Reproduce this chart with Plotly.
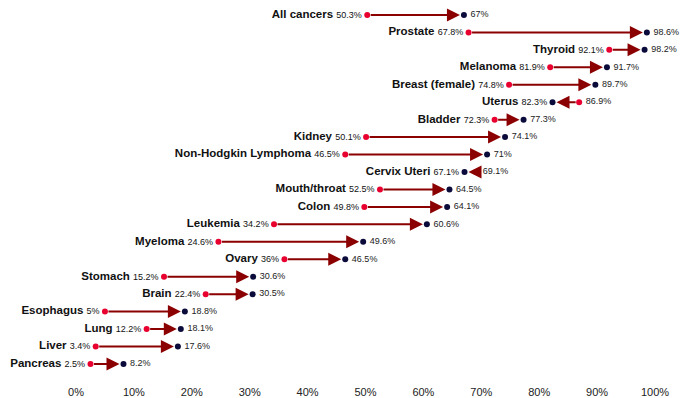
import plotly.graph_objects as go

names = ["All cancers", "Prostate", "Thyroid", "Melanoma", "Breast (female)", "Uterus",
         "Bladder", "Kidney", "Non-Hodgkin Lymphoma", "Cervix Uteri", "Mouth/throat",
         "Colon", "Leukemia", "Myeloma", "Ovary", "Stomach", "Brain", "Esophagus",
         "Lung", "Liver", "Pancreas"]
start_vals = [50.3, 67.8, 92.1, 81.9, 74.8, 86.9, 72.3, 50.1, 46.5, 69.1, 52.5,
              49.8, 34.2, 24.6, 36, 15.2, 22.4, 5, 12.2, 3.4, 2.5]
end_vals = [67, 98.6, 98.2, 91.7, 89.7, 82.3, 77.3, 74.1, 71, 67.1, 64.5,
            64.1, 60.6, 49.6, 46.5, 30.6, 30.5, 18.8, 18.1, 17.6, 8.2]
tick_vals = [0, 10, 20, 30, 40, 50, 60, 70, 80, 90, 100]
tick_text = ["0%", "10%", "20%", "30%", "40%", "50%", "60%", "70%", "80%", "90%", "100%"]

FONT = "Liberation Sans, Arial, Helvetica, sans-serif"
RED = "#e8002f"
NAVY = "#0b0b3b"
ARROW = "#8b0000"

def fmt(v):
    return f"{v:g}%"

ys = list(range(len(names)))
lo = [min(a, b) for a, b in zip(start_vals, end_vals)]
hi = [max(a, b) for a, b in zip(start_vals, end_vals)]

fig = go.Figure()

# left labels (name + lower value)
fig.add_trace(go.Scatter(
    x=lo, y=ys, mode="markers+text",
    marker=dict(size=7, opacity=0),
    text=[f"<b>{n}</b> <span style='font-size:9px;font-weight:normal'>{fmt(v)}</span>"
          for n, v in zip(names, lo)],
    textposition="middle left",
    textfont=dict(family=FONT, size=11.5, color="#111"),
    hoverinfo="skip", showlegend=False, cliponaxis=False))

# right labels (higher value)
fig.add_trace(go.Scatter(
    x=hi, y=ys, mode="markers+text",
    marker=dict(size=9, opacity=0),
    text=[fmt(v) for v in hi],
    textposition="middle right",
    textfont=dict(family=FONT, size=9, color="#222"),
    hoverinfo="skip", showlegend=False, cliponaxis=False))

# arrows
for s, e, y in zip(start_vals, end_vals, ys):
    fig.add_annotation(x=e, y=y, ax=s, ay=y, xref="x", yref="y", axref="x", ayref="y",
                       text="", showarrow=True, arrowhead=2, arrowsize=1.3,
                       arrowwidth=2, arrowcolor=ARROW, standoff=4, startstandoff=2)

fig.add_trace(go.Scatter(x=start_vals, y=ys, mode="markers",
                         marker=dict(color=RED, size=6), showlegend=False,
                         cliponaxis=False))
fig.add_trace(go.Scatter(x=end_vals, y=ys, mode="markers",
                         marker=dict(color=NAVY, size=6), showlegend=False,
                         cliponaxis=False))

fig.update_layout(
    width=687, height=390,
    margin=dict(l=68, r=40, t=0, b=14, pad=0),
    paper_bgcolor="white", plot_bgcolor="white",
    font=dict(family=FONT, color="#222"),
    xaxis=dict(range=[0, 100], tickvals=tick_vals, ticktext=tick_text,
               showgrid=False, zeroline=False, showline=False,
               tickfont=dict(size=11, color="#222")),
    yaxis=dict(range=[21.15, -0.40], showticklabels=False,
               showgrid=False, zeroline=False, showline=False),
)

fig.write_html("out.html")
